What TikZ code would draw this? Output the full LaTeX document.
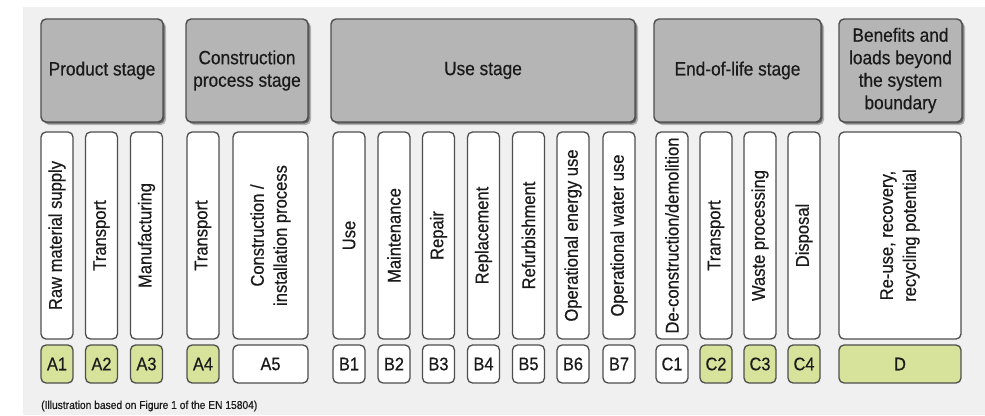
\documentclass[tikz,border=0pt]{standalone}
\usepackage{fontspec}
\setmainfont{Liberation Sans}[FakeStretch=0.9, FakeBold=0.45]
\usetikzlibrary{shadows}
\definecolor{bggray}{HTML}{F0F0F0}
\definecolor{hdrgray}{HTML}{B5B5B6}
\definecolor{edgec}{HTML}{4E4E4E}
\definecolor{lgreen}{HTML}{D7E29A}
\definecolor{txt}{HTML}{1A1A1A}
\tikzset{
  stagebox/.style={draw=edgec, line width=1.4pt, fill=hdrgray, rounded corners=5pt,
    inner sep=0pt, align=center, text=txt, minimum height=103pt,
    font=\fontsize{19.2}{22.5}\selectfont,
    drop shadow={shadow xshift=3pt, shadow yshift=-3pt, opacity=.25, fill=black},
    drop shadow={shadow xshift=1.6pt, shadow yshift=-1.6pt, opacity=.45, fill=black}},
  modbox/.style={draw=edgec, line width=1.3pt, fill=white, rounded corners=5pt,
    inner sep=0pt, minimum height=207pt},
  modtext/.style={rotate=90, align=center, text=txt, inner sep=0pt,
    font=\fontsize{18.4}{23}\selectfont},
  codebox/.style={draw=edgec, line width=1.3pt, rounded corners=5pt,
    inner sep=0pt, minimum height=38pt, text=txt,
    font=\fontsize{18.2}{20}\selectfont},
  green/.style={codebox, fill=lgreen},
  plain/.style={codebox, fill=white},
  captext/.style={anchor=west, inner sep=0pt, text=txt, font=\fontsize{11.4}{13}\selectfont}
}
\begin{document}
\begin{tikzpicture}[x=1pt,y=-1pt]
\useasboundingbox (0,0) rectangle (985,415);
\fill[white] (0,0) rectangle (985,415);
\fill[bggray] (23,7) rectangle (985,415);

% stage headers
\node[stagebox, minimum width=122pt] (hP) at (102,70.5) {Product stage};
\node[stagebox, minimum width=122pt] (hC) at (247,70.5) {Construction\\process stage};
\node[stagebox, minimum width=304pt] (hU) at (483,70.5) {Use stage};
\node[stagebox, minimum width=167pt] (hE) at (737.5,70.5) {End-of-life stage};
\node[stagebox, minimum width=123pt] (hD) at (900.5,70.5) {Benefits and\\loads beyond\\the system\\boundary};

% module boxes
\foreach \n/\x/\w/\t in {
  A1/57/32/{Raw material supply},
  A2/101.5/32/{Transport},
  A3/146.5/32/{Manufacturing},
  A4/203/32/{Transport},
  A5/270.5/75/{Construction /\\installation process},
  B1/349/32/{Use},
  B2/394/32/{Maintenance},
  B3/438.5/32/{Repair},
  B4/483.5/32/{Replacement},
  B5/528.5/32/{Refurbishment},
  B6/573/32/{Operational energy use},
  B7/619/32/{Operational water use},
  C1/672/32/{De-construction/demolition},
  C2/716/32/{Transport},
  C3/760/32/{Waste processing},
  C4/804/32/{Disposal},
  D/900/122/{Re-use, recovery,\\recycling potential}}{
  \node[modbox, minimum width=\w pt] (m\n) at (\x,235.5) {};
  \node[modtext] (t\n) at (m\n.center) {\t};
}

% module codes
\foreach \n/\x/\w/\s in {
  A1/57/32/green, A2/101.5/32/green, A3/146.5/32/green, A4/203/32/green,
  A5/270.5/75/plain,
  B1/349/32/plain, B2/394/32/plain, B3/438.5/32/plain, B4/483.5/32/plain,
  B5/528.5/32/plain, B6/573/32/plain, B7/619/32/plain,
  C1/672/32/plain, C2/716/32/green, C3/760/32/green, C4/804/32/green,
  D/900/122/green}{
  \node[\s, minimum width=\w pt] (c\n) at (\x,364) {\n};
}

\node[captext] (cap) at (41,406) {(Illustration based on Figure 1 of the EN 15804)};
\end{tikzpicture}
\end{document}
